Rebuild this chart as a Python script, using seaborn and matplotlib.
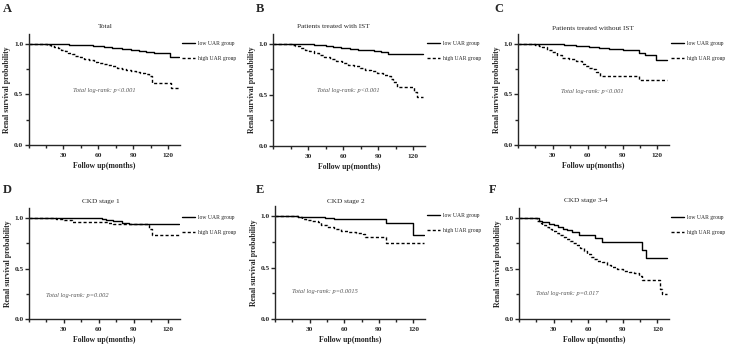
import numpy as np
import pandas as pd
import matplotlib
matplotlib.use("Agg")
import matplotlib.pyplot as plt
from matplotlib.ticker import MultipleLocator, FormatStrFormatter
import seaborn as sns

# ---------------- data ----------------
titles = ["Total", "Patients treated with IST", "Patients treated without IST",
          "CKD stage 1", "CKD stage 2", "CKD stage 3-4"]
letters = ["A", "B", "C", "D", "E", "F"]
pvals = ["Total log-rank: p<0.001", "Total log-rank: p<0.001", "Total log-rank: p<0.001",
         "Total log-rank: p=0.002", "Total log-rank: p=0.0015", "Total log-rank: p=0.017"]
groups = ["low UAR group", "high UAR group"]

# Panel A
A_low_t = [0, 15, 25, 35, 45, 55, 65, 72, 80, 88, 95, 101, 108, 121, 129]
A_low_s = [1, 1, .995, .99, .985, .978, .97, .96, .945, .935, .925, .915, .905, .87, .87]
A_high_t = [0, 16, 19, 22, 25, 28, 31, 34, 37, 40, 44, 48, 52, 56, 60, 64, 68, 72, 76, 80,
            84, 88, 92, 96, 100, 103, 106, 122, 129]
A_high_s = [1, .99, .98, .97, .955, .94, .925, .91, .895, .88, .865, .85, .835, .82, .81, .795,
            .785, .775, .76, .75, .74, .73, .72, .71, .70, .68, .61, .56, .56]
# Panel B
B_low_t = [0, 16, 25, 35, 45, 51, 58, 66, 73, 80, 86, 92, 98, 128]
B_low_s = [1, 1, .995, .99, .98, .97, .96, .95, .94, .935, .925, .92, .90, .90]
B_high_t = [0, 16, 19, 23, 27, 31, 35, 39, 44, 49, 54, 59, 64, 69, 74, 79, 84, 89, 94, 98,
            101, 103, 106, 121, 123, 128]
B_high_s = [1, .99, .975, .96, .94, .925, .905, .89, .87, .85, .835, .815, .795, .78, .765,
            .745, .73, .71, .695, .68, .66, .63, .58, .53, .48, .48]
# Panel C
C_low_t = [0, 15, 28, 40, 50, 61, 70, 78, 90, 101, 104, 109, 119, 128]
C_low_s = [1, 1, .995, .985, .98, .97, .96, .945, .94, .935, .91, .89, .835, .835]
C_high_t = [0, 15, 18, 21, 25, 29, 34, 38, 44, 50, 55, 58, 61, 64, 67, 71, 104, 128]
C_high_s = [1, .99, .975, .965, .94, .92, .89, .86, .85, .83, .80, .78, .76, .745, .72, .68, .64, .64]
# Panel D
D_low_t = [0, 63, 66, 72, 80, 86, 93, 129]
D_low_s = [1, .995, .98, .97, .95, .945, .94, .94]
D_high_t = [0, 23, 30, 37, 66, 68, 72, 93, 103, 106, 129]
D_high_s = [1, .99, .98, .965, .965, .955, .945, .94, .89, .83, .83]
# Panel E
E_low_t = [0, 20, 30, 43, 51, 96, 120, 129]
E_low_s = [1, .995, .99, .985, .97, .934, .815, .815]
E_high_t = [0, 20, 23, 27, 32, 37, 40, 45, 51, 57, 63, 70, 76, 78, 96, 129]
E_high_s = [1, .99, .975, .965, .955, .94, .915, .90, .88, .86, .845, .835, .83, .80, .735, .735]
# Panel F
F_low_t = [0, 17, 20, 26, 30, 34, 38, 42, 46, 52, 66, 72, 107, 110, 128]
F_low_s = [1, .97, .96, .945, .93, .91, .895, .88, .865, .835, .80, .76, .68, .60, .60]
F_high_t = [0, 16, 18, 20, 23, 26, 29, 32, 35, 38, 41, 44, 47, 50, 53, 56, 59, 62, 65, 68,
            72, 76, 80, 85, 90, 95, 100, 104, 107, 122, 124, 128]
F_high_s = [1, .97, .95, .93, .91, .89, .87, .85, .83, .81, .79, .77, .75, .73, .70, .67, .64,
            .61, .59, .57, .56, .54, .52, .50, .48, .47, .46, .43, .385, .30, .25, .25]

curves = [
    (A_low_t, A_low_s, A_high_t, A_high_s),
    (B_low_t, B_low_s, B_high_t, B_high_s),
    (C_low_t, C_low_s, C_high_t, C_high_s),
    (D_low_t, D_low_s, D_high_t, D_high_s),
    (E_low_t, E_low_s, E_high_t, E_high_s),
    (F_low_t, F_low_s, F_high_t, F_high_s),
]
# annotation positions (data coords)
ann_xy = [(38, 0.54), (38, 0.54), (37, 0.53), (15, 0.23), (15, 0.27), (15, 0.25)]

# ---------------- style ----------------
sns.set_style("ticks")
plt.rcParams["font.family"] = ["Liberation Serif", "DejaVu Serif"]
plt.rcParams["axes.linewidth"] = 1.0

W, H = 729, 346
fig = plt.figure(figsize=(W / 100, H / 100), dpi=100)

# axes boxes in pixels: x0, x1, ytop, ybottom
boxes = [(28.5, 180, 33.5, 145), (273, 425, 33.5, 146), (518, 669, 33.5, 145),
         (29, 180, 208, 319), (275, 425, 206, 319), (519, 669, 208, 319)]
letter_pos = [(3, 9), (256, 9), (494, 9), (3, 190), (256, 190), (489, 190)]
title_pos = [(105, 27), (333, 27), (593, 28), (101, 201), (346, 201), (586, 200)]

for i in range(6):
    x0, x1, yt, yb = boxes[i]
    ax = fig.add_axes([x0 / W, 1 - yb / H, (x1 - x0) / W, (yb - yt) / H])
    lt, ls, ht, hs = curves[i]
    dlow = pd.DataFrame({"t": lt, "s": ls})
    dhigh = pd.DataFrame({"t": ht, "s": hs})
    sns.lineplot(data=dlow, x="t", y="s", ax=ax, drawstyle="steps-post", color="black",
                 lw=1.0, estimator=None, sort=False, label=groups[0])
    sns.lineplot(data=dhigh, x="t", y="s", ax=ax, drawstyle="steps-post", color="black",
                 lw=1.0, linestyle=(0, (2.2, 1.6)), estimator=None, sort=False, label=groups[1])
    ax.set_xlim(0, 130)
    ax.set_ylim(0, 1.1)
    sns.despine(ax=ax)
    ax.xaxis.set_major_locator(MultipleLocator(30))
    ax.xaxis.set_minor_locator(MultipleLocator(15))
    ax.yaxis.set_major_locator(MultipleLocator(0.5))
    ax.yaxis.set_minor_locator(MultipleLocator(0.25))
    ax.yaxis.set_major_formatter(FormatStrFormatter("%.1f"))
    ax.set_xticks([30, 60, 90, 120])
    ax.tick_params(which="major", length=3, width=1.0, labelsize=5.3)
    ax.tick_params(axis="x", which="major", pad=2.5)
    ax.tick_params(axis="y", which="major", pad=0.8)
    ax.tick_params(which="minor", length=2.2, width=1.0)
    for lab in ax.get_xticklabels() + ax.get_yticklabels():
        lab.set_fontweight("bold")
    ax.set_xlabel("Follow up(months)", fontsize=5.6, fontweight="bold", labelpad=3)
    ax.set_ylabel("Renal survival probability", fontsize=5.6, fontweight="bold", labelpad=2)
    ax.text(ann_xy[i][0], ann_xy[i][1], pvals[i], fontsize=4.6, style="italic",
            color="#555555", va="center", ha="left")
    ax.legend(loc="upper left", bbox_to_anchor=(1.01, 0.935), frameon=False, fontsize=4.1,
              handlelength=2.3, handletextpad=0.6, labelspacing=1.75, borderaxespad=0,
              borderpad=0)
    lx, ly = letter_pos[i]
    fig.text(lx / W, 1 - ly / H, letters[i], fontsize=9, fontweight="bold", va="center", ha="left")
    tx, ty = title_pos[i]
    fig.text(tx / W, 1 - ty / H, titles[i], fontsize=5.2, va="center", ha="center")

fig.savefig("out.png", dpi=100)
